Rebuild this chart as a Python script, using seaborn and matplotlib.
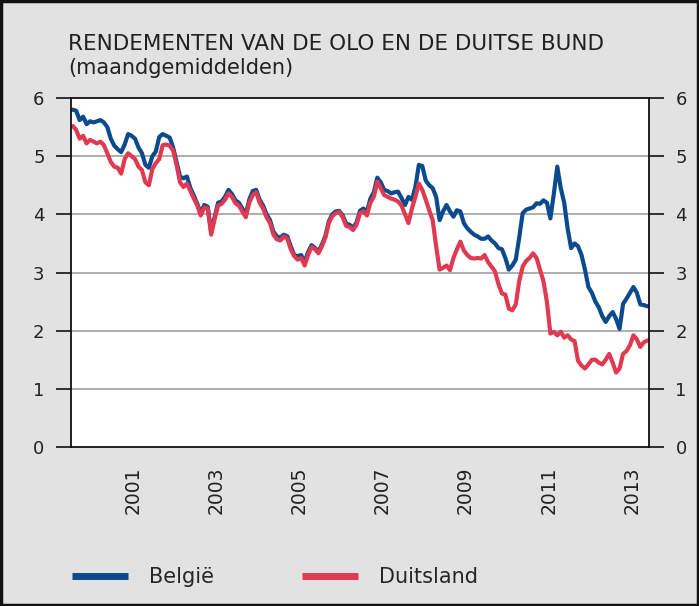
import numpy as np
import pandas as pd
import seaborn as sns
import matplotlib.pyplot as plt
from matplotlib.patches import Rectangle

# maandgemiddelden, jan 2000 - nov 2013 (rijen per jaar)
belgie = [
    5.80, 5.78, 5.62, 5.68, 5.55, 5.60, 5.58, 5.60, 5.62, 5.58, 5.50, 5.30,
    5.18, 5.12, 5.07, 5.20, 5.38, 5.35, 5.30, 5.15, 5.05, 4.85, 4.80, 5.00,
    5.08, 5.33, 5.38, 5.35, 5.32, 5.15, 4.90, 4.65, 4.62, 4.65, 4.45, 4.32,
    4.18, 4.02, 4.16, 4.13, 3.70, 3.95, 4.20, 4.22, 4.30, 4.42, 4.35, 4.24,
    4.20, 4.10, 4.00, 4.25, 4.40, 4.42, 4.25, 4.15, 4.00, 3.90, 3.70, 3.62,
    3.60, 3.65, 3.62, 3.45, 3.30, 3.28, 3.30, 3.18, 3.35, 3.47, 3.42, 3.36,
    3.48, 3.63, 3.88, 4.00, 4.05, 4.06, 3.98, 3.84, 3.82, 3.77, 3.86, 4.06,
    4.10, 4.04, 4.27, 4.38, 4.63, 4.55, 4.42, 4.40, 4.36, 4.38, 4.39, 4.28,
    4.16, 4.30, 4.25, 4.47, 4.85, 4.83, 4.58, 4.50, 4.45, 4.30, 3.90, 4.05,
    4.16, 4.05, 3.96, 4.07, 4.05, 3.85, 3.76, 3.70, 3.65, 3.62, 3.58, 3.58,
    3.62, 3.55, 3.50, 3.42, 3.40, 3.25, 3.05, 3.12, 3.22, 3.60, 4.02, 4.08,
    4.10, 4.12, 4.19, 4.18, 4.24, 4.20, 3.93, 4.35, 4.82, 4.45, 4.20, 3.75,
    3.42, 3.50, 3.45, 3.30, 3.05, 2.75, 2.65, 2.50, 2.40, 2.25, 2.15, 2.25,
    2.32, 2.20, 2.03, 2.46, 2.55, 2.65, 2.75, 2.65, 2.45, 2.44, 2.42,
]
duitsland = [
    5.52, 5.45, 5.30, 5.35, 5.22, 5.28, 5.25, 5.22, 5.25, 5.19, 5.05, 4.90,
    4.82, 4.80, 4.70, 4.95, 5.05, 5.00, 4.95, 4.82, 4.76, 4.55, 4.50, 4.78,
    4.88, 4.95, 5.19, 5.20, 5.18, 5.10, 4.85, 4.55, 4.47, 4.53, 4.40, 4.27,
    4.15, 3.98, 4.12, 4.10, 3.65, 3.92, 4.15, 4.18, 4.25, 4.36, 4.30, 4.19,
    4.15, 4.05, 3.95, 4.20, 4.33, 4.38, 4.20, 4.10, 3.95, 3.85, 3.65, 3.57,
    3.55, 3.62, 3.58, 3.40, 3.28, 3.22, 3.25, 3.12, 3.30, 3.44, 3.40, 3.33,
    3.45, 3.60, 3.85, 3.97, 4.02, 4.04, 3.95, 3.80, 3.78, 3.73, 3.82, 4.02,
    4.05, 3.98, 4.20, 4.30, 4.56, 4.45, 4.33, 4.30, 4.27, 4.25, 4.22, 4.15,
    4.00, 3.85, 4.10, 4.30, 4.53, 4.42, 4.25, 4.07, 3.90, 3.45, 3.05, 3.08,
    3.12, 3.04, 3.25, 3.40, 3.53, 3.38, 3.30, 3.25, 3.24, 3.25, 3.24, 3.30,
    3.18, 3.10, 3.02, 2.80, 2.64, 2.62, 2.38, 2.35, 2.45, 2.85, 3.10, 3.20,
    3.25, 3.33, 3.25, 3.05, 2.85, 2.50, 1.95, 1.98, 1.92, 1.98, 1.88, 1.92,
    1.85, 1.82, 1.48, 1.40, 1.35, 1.42, 1.50, 1.50, 1.45, 1.42, 1.50, 1.60,
    1.45, 1.28, 1.35, 1.60, 1.65, 1.75, 1.92, 1.85, 1.72, 1.80, 1.83,
]
landen = ["België", "Duitsland"]
kleuren = {"België": "#0b4a8c", "Duitsland": "#e03a52"}
jaar_labels = [2001, 2003, 2005, 2007, 2009, 2011, 2013]

maanden = pd.date_range("2000-01-01", periods=len(belgie), freq="MS")
t = maanden.year + (maanden.month - 0.5) / 12

df = pd.DataFrame({"t": np.concatenate([t, t]),
                   "rendement": belgie + duitsland,
                   "land": [landen[0]] * len(belgie) + [landen[1]] * len(duitsland)})

sns.set_style("white")
plt.rcParams["font.family"] = ["DejaVu Sans"]
grijs = "#e2e2e2"

fig = plt.figure(figsize=(6.99, 6.06), dpi=100, facecolor=grijs)
ax = fig.add_axes([71 / 699, 1 - 447 / 606, 578 / 699, 349 / 606])

sns.lineplot(data=df, x="t", y="rendement", hue="land", hue_order=landen,
             palette=kleuren, linewidth=3, ax=ax)
ax.get_legend().remove()

ax.set_xlim(2000, 2000 + len(belgie) / 12)
ax.set_ylim(0, 6)
ax.set_xlabel("")
ax.set_ylabel("")

for y in range(1, 6):
    ax.axhline(y, color="#a8a8a8", linewidth=1.3, zorder=0)

for s in ax.spines.values():
    s.set_visible(True)
    s.set_color("#111111")
    s.set_linewidth(1.3)

ax.set_yticks(range(0, 7))
ax.tick_params(axis="y", which="major", direction="out", length=11, width=1.2,
               color="#111111", labelsize=13, pad=8, labelcolor="#222222",
               left=True, right=True, labelleft=True, labelright=True)

ax.set_xticks(range(2001, 2014))
ax.set_xticklabels([])
ax.tick_params(axis="x", which="major", direction="in", length=12, width=1.2,
               color="#111111")
ax.set_xticks([j + 0.5 for j in jaar_labels], minor=True)
ax.set_xticklabels([str(j) for j in jaar_labels], minor=True, rotation=90,
                   fontsize=13.5, color="#222222")
ax.tick_params(axis="x", which="minor", length=0, pad=14)

fig.text(68 / 699, 1 - 50 / 606, "RENDEMENTEN VAN DE OLO EN DE DUITSE BUND",
         fontsize=15.5, color="#222222", va="baseline")
fig.text(68 / 699, 1 - 74 / 606, "(maandgemiddelden)",
         fontsize=15, color="#222222", va="baseline")

handles = ax.get_lines()[:2]
leg = fig.legend(handles, landen, loc="center left",
                 bbox_to_anchor=(72 / 699, 1 - 577 / 606), ncol=2,
                 frameon=False, fontsize=15, handlelength=2.7,
                 handletextpad=1.0, columnspacing=4.2, borderpad=0,
                 borderaxespad=0)
for h in leg.legend_handles:
    h.set_linewidth(5)
    h.set_solid_capstyle("butt")

fig.patches.append(Rectangle((0.002, 0.002), 0.996, 0.996, transform=fig.transFigure,
                             fill=False, edgecolor="#111111", linewidth=2.5))

fig.savefig("out.png", dpi=100, facecolor=grijs)
